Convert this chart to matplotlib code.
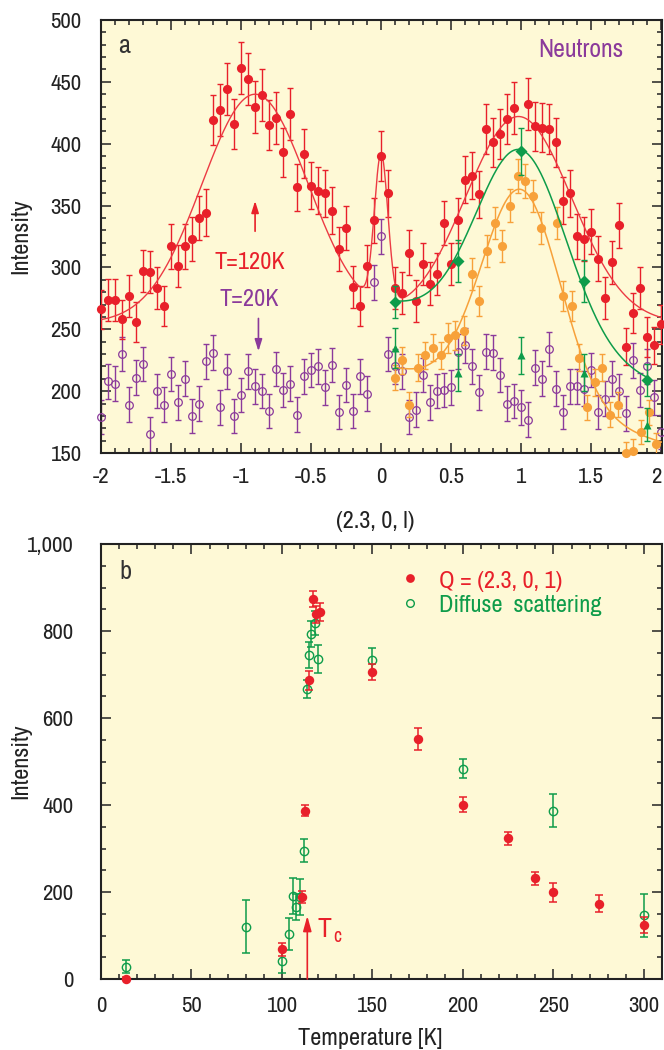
import numpy as np
import matplotlib.pyplot as plt
from matplotlib import font_manager
from matplotlib.ticker import MultipleLocator, FuncFormatter

# procura uma fonte estreita (tipo Helvetica Condensed); senao usa Liberation Sans
fam, stretch, narrow = 'Liberation Sans', 'normal', False
for f in font_manager.fontManager.ttflist:
    if 'Narrow' in f.name or 'Condensed' in f.name:
        fam, stretch, narrow = f.name, f.stretch, True
        break
if not narrow:
    for f in font_manager.fontManager.ttflist:
        if f.stretch in ('condensed', 'semi-condensed') and f.name in ('DejaVu Sans', 'Roboto', 'Open Sans', 'Noto Sans'):
            fam, stretch, narrow = f.name, f.stretch, True
            break
plt.rcParams['font.family'] = [fam, 'DejaVu Sans']
plt.rcParams['font.stretch'] = stretch
plt.rcParams['axes.unicode_minus'] = False
fs = 16.5 if narrow else 14.5     # rotulos dos ticks
fl = 17.5 if narrow else 15       # titulos dos eixos e textos

# --- painel a: varredura ao longo de (2.3, 0, l) ---
l_scan = np.linspace(-2, 2, 81)   # grade de medida, passo 0.05

i_120k = [266, 274, 274, 258, 277, 256, 297, 296, 283, 269,
          317, 301, 317, 323, 340, 344, 419, 427, 444, 416,
          461, 452, 430, 439, 415, 421, 393, 424, 365, 392,
          366, 362, 360, 346, 315, 332, 284, 269, 301, 338,
          390, 360, 283, 279, 312, 273, 303, 287, 295, 336,
          303, 338, 371, 374, 359, 412, 401, 408, 420, 429,
          np.nan, 432, 414, 413, 412, 401, 354, 360, 325, 323,
          329, 307, 275, 304, 334, 236, 263, 283, 244, 237, 254]
e_120k = [16, 17, 17, 16, 17, 16, 17, 17, 17, 16,
          18, 17, 18, 18, 18, 19, 20, 21, 21, 20,
          21, 21, 21, 21, 20, 21, 20, 21, 19, 20,
          19, 19, 19, 19, 18, 18, 17, 16, 17, 18,
          20, 19, 17, 17, 18, 17, 17, 17, 17, 18,
          17, 18, 19, 19, 19, 20, 20, 20, 20, 21,
          0, 21, 20, 20, 20, 20, 19, 19, 18, 18,
          18, 18, 17, 17, 18, 15, 16, 17, 16, 15, 16]

i_20k = [179, 208, 206, 230, 189, 211, 222, 165, 200, 189,
         214, 191, 210, 180, 190, 224, 231, 187, 216, 180,
         197, 216, 204, 200, 184, 218, 201, 206, 181, 212,
         217, 220, 203, 221, 183, 205, 184, 212, 198, 288,
         325, 230, 220, 216, 179, 185, 213, 191, 200, 201,
         203, 232, 237, 220, 199, 232, 231, 213, 190, 192,
         187, 177, 219, 210, 234, 202, 183, 204, 204, 202,
         217, 183, 194, 210, 200, 182, 225, 201, 220, 195, 167]
e_20k = 14

l_orange = [0.10, 0.15, 0.20, 0.26, 0.31, 0.37, 0.43, 0.48, 0.53, 0.59,
            0.65, 0.70, 0.755, 0.81, 0.865, 0.92, 0.975, 1.03, 1.085, 1.14,
            1.255, 1.30, 1.36, 1.415, 1.47, 1.525, 1.58, 1.635, 1.69, 1.745,
            1.80, 1.855, 1.91, 1.965]
i_orange = [211, 225, 189, 219, 229, 235, 229, 243, 245, 249,
            295, 273, 313, 336, 317, 350, 374, 370, 358, 332,
            336, 277, 269, 227, 187, 207, 219, 181, 189, 150,
            152, 167, 183, 157]
e_orange = [10, 11, 10, 11, 11, 11, 11, 12, 12, 12,
            13, 12, 13, 13, 13, 13, 14, 14, 13, 13,
            13, 12, 12, 11, 10, 11, 11, 10, 10, 9,
            9, 10, 10, 9]

l_green = [0.1, 0.55, 1.0, 1.45, 1.9]
i_diamond = [272, 305, 394, 289, 209]
e_diamond = [13, 17, 19, 17, 13]
i_triangle = [235, 215, 229, 215, 173]
e_triangle = [16, 15, 15, 15, 13]

# parametros dos ajustes (centro, amplitude, largura)
red_base = 255
red_peaks = [(-0.9, 185, 0.38), (0.0, 120, 0.048), (0.98, 167, 0.38)]
green_base, green_slope, green_peak = 239, -34.4, (1.0, 156, 0.32)
orange_base, orange_slope, orange_peak = 190, -31.4, (1.0, 173, 0.28)

# --- painel b: intensidade x temperatura ---
t_q = [14, 100, 111, 113, 115, 117, 119, 121, 150, 175, 200, 225, 240, 250, 275, 300]
i_q = [0, 68, 188, 387, 687, 873, 838, 844, 706, 551, 401, 324, 232, 199, 173, 124]
e_q = [5, 15, 14, 12, 22, 18, 20, 20, 19, 25, 17, 15, 15, 21, 19, 18]

t_diff = [14, 80, 100, 104, 106, 108, 110, 112, 113.6, 115, 116, 118, 120, 150, 200, 250, 300]
i_diff = [28, 120, 41, 103, 191, 166, 189, 295, 667, 745, 793, 818, 736, 733, 483, 387, 146]
e_diff = [15, 61, 28, 37, 41, 30, 41, 26, 21, 30, 30, 28, 32, 29, 22, 38, 49]

red = '#e8202a'
purple = '#8b3a9b'
green = '#0e9c4a'
orange = '#f7a13a'
bg = '#fef9d6'


def gauss(x, c, a, s):
    return a * np.exp(-(x - c) ** 2 / (2 * s ** 2))


def style_axes(ax):
    ax.set_facecolor(bg)
    for sp in ax.spines.values():
        sp.set_linewidth(1.5)
        sp.set_color('#222222')
    ax.tick_params(which='both', direction='in', top=True, right=True,
                   width=1.1, colors='#222222', labelsize=fs)
    ax.tick_params(which='major', length=7)
    ax.tick_params(which='minor', length=3.5)


fig = plt.figure(figsize=(6.64, 10.5), dpi=100)
ax1 = fig.add_axes([101 / 664, 1 - 453 / 1050, 561 / 664, 433 / 1050])
ax2 = fig.add_axes([101 / 664, 1 - 979 / 1050, 561 / 664, 435 / 1050])

# ---------------- painel a ----------------
style_axes(ax1)
ax1.tick_params(axis='x', which='both', pad=10)
ax1.tick_params(axis='y', which='both', pad=14)

ax1.errorbar(l_scan, i_20k, yerr=e_20k, fmt='none', ecolor=purple,
             elinewidth=1, capsize=2.5, capthick=1, zorder=2)
ax1.plot(l_scan, i_20k, 'o', ms=5.5, mfc='none', mec=purple, mew=0.9, zorder=3, clip_on=False)

ax1.errorbar(l_scan, i_120k, yerr=e_120k, fmt='none', ecolor=red,
             elinewidth=1, capsize=2.5, capthick=1, zorder=4)
ax1.plot(l_scan, i_120k, 'o', ms=6.6, color=red, mec='none', zorder=5, clip_on=False)

ax1.errorbar(l_orange, i_orange, yerr=e_orange, fmt='none', ecolor=orange,
             elinewidth=1, capsize=2.5, capthick=1, zorder=4)
ax1.plot(l_orange, i_orange, 'o', ms=6.6, color=orange, mec='none', zorder=5, clip_on=False)

ax1.errorbar(l_green, i_diamond, yerr=e_diamond, fmt='none', ecolor=green,
             elinewidth=1, capsize=2.5, capthick=1, zorder=6)
ax1.plot(l_green, i_diamond, 'D', ms=5.8, color=green, mec='none', zorder=7)
ax1.errorbar(l_green, i_triangle, yerr=e_triangle, fmt='none', ecolor=green,
             elinewidth=1, capsize=2.5, capthick=1, zorder=6)
ax1.plot(l_green, i_triangle, '^', ms=6.3, color=green, mec='none', zorder=7)

# curvas de ajuste
xf = np.linspace(-2, 2, 800)
yf = red_base + sum(gauss(xf, *p) for p in red_peaks)
ax1.plot(xf, yf, color='#ec3b44', lw=1.0, zorder=4.5)

xg = np.linspace(0.1, 1.92, 400)
ax1.plot(xg, green_base + green_slope * (xg - 1) + gauss(xg, *green_peak),
         color=green, lw=1.1, zorder=6.5)

xo = np.linspace(0.1, 2.0, 400)
ax1.plot(xo, orange_base + orange_slope * (xo - 1) + gauss(xo, *orange_peak),
         color=orange, lw=1.1, zorder=4.6)

ax1.set_xlim(-2, 2.005)
ax1.set_ylim(150, 500)
ax1.xaxis.set_major_locator(MultipleLocator(0.5))
ax1.xaxis.set_minor_locator(MultipleLocator(0.1))
ax1.yaxis.set_major_locator(MultipleLocator(50))
ax1.yaxis.set_minor_locator(MultipleLocator(10))
ax1.xaxis.set_major_formatter(FuncFormatter(lambda v, p: '%g' % v))

ax1.set_xlabel('(2.3, 0, l)', fontsize=fl, color='#222222')
ax1.xaxis.set_label_coords(0.488, -0.135)
ax1.set_ylabel('Intensity', fontsize=fl, color='#222222')
ax1.yaxis.set_label_coords(-0.125, 0.5)

ax1.text(-1.88, 473, 'a', fontsize=19, color='#333333', va='baseline')
ax1.text(1.12, 470, 'Neutrons', fontsize=fl + 1, color=purple, va='baseline')
ax1.text(-0.94, 299, 'T=120K', fontsize=fl, color=red, ha='center', va='baseline')
ax1.text(-0.94, 269, 'T=20K', fontsize=fl, color=purple, ha='center', va='baseline')
ax1.annotate('', xy=(-0.9, 356), xytext=(-0.9, 327),
             arrowprops=dict(arrowstyle='-|>,head_length=0.7,head_width=0.22',
                             color=red, lw=1.2))
ax1.annotate('', xy=(-0.876, 230), xytext=(-0.876, 261),
             arrowprops=dict(arrowstyle='-|>,head_length=0.7,head_width=0.22',
                             color=purple, lw=1.2))

# ---------------- painel b ----------------
style_axes(ax2)
ax2.tick_params(axis='x', which='both', pad=12)
ax2.tick_params(axis='y', which='both', pad=20)

ax2.errorbar(t_diff, i_diff, yerr=e_diff, fmt='none', ecolor=green,
             elinewidth=1.1, capsize=3, capthick=1.1, zorder=3)
ax2.plot(t_diff, i_diff, 'o', ms=6, mfc='none', mec=green, mew=1.0, zorder=4, clip_on=False)
ax2.errorbar(t_q, i_q, yerr=e_q, fmt='none', ecolor=red,
             elinewidth=1.1, capsize=3, capthick=1.1, zorder=5)
ax2.plot(t_q, i_q, 'o', ms=6.8, color=red, mec='none', zorder=6, clip_on=False)

ax2.set_xlim(0, 310)
ax2.set_ylim(0, 1000)
ax2.xaxis.set_major_locator(MultipleLocator(50))
ax2.xaxis.set_minor_locator(MultipleLocator(10))
ax2.yaxis.set_major_locator(MultipleLocator(200))
ax2.yaxis.set_minor_locator(MultipleLocator(50))
ax2.yaxis.set_major_formatter(FuncFormatter(lambda v, p: '{:,.0f}'.format(v)))

ax2.set_xlabel('Temperature [K]', fontsize=fl, color='#222222')
ax2.xaxis.set_label_coords(0.48, -0.112)
ax2.set_ylabel('Intensity', fontsize=fl, color='#222222')
ax2.yaxis.set_label_coords(-0.125, 0.5)

ax2.text(10, 919, 'b', fontsize=19, color='#333333', va='baseline')

# legenda feita a mao
ax2.plot([170.7], [922], 'o', ms=6.3, color=red, mec='none')
ax2.text(186.7, 898, 'Q = (2.3, 0, 1)', fontsize=fl, color=red, va='baseline')
ax2.plot([170.7], [864], 'o', ms=5.5, mfc='none', mec=green, mew=1.0)
ax2.text(186.7, 843, 'Diffuse  scattering', fontsize=fl, color=green, va='baseline')

# seta de Tc
ax2.annotate('', xy=(114, 145), xytext=(114, 0),
             arrowprops=dict(arrowstyle='-|>,head_length=0.9,head_width=0.25',
                             color=red, lw=1.2, shrinkA=0, shrinkB=0))
ax2.text(119.5, 96, 'T', fontsize=20, color=red, va='baseline')
ax2.text(128.5, 84, 'c', fontsize=14, color=red, va='baseline')

# o rotulo "2" fica colado na borda direita: alinha pela direita
fig.canvas.draw()
for tk in ax1.xaxis.get_major_ticks():
    if abs(tk.get_loc() - 2) < 1e-6:
        tk.label1.set_horizontalalignment('right')
        tk.label1.set_x(2.0)

fig.savefig('out.png', dpi=100, facecolor='white')
